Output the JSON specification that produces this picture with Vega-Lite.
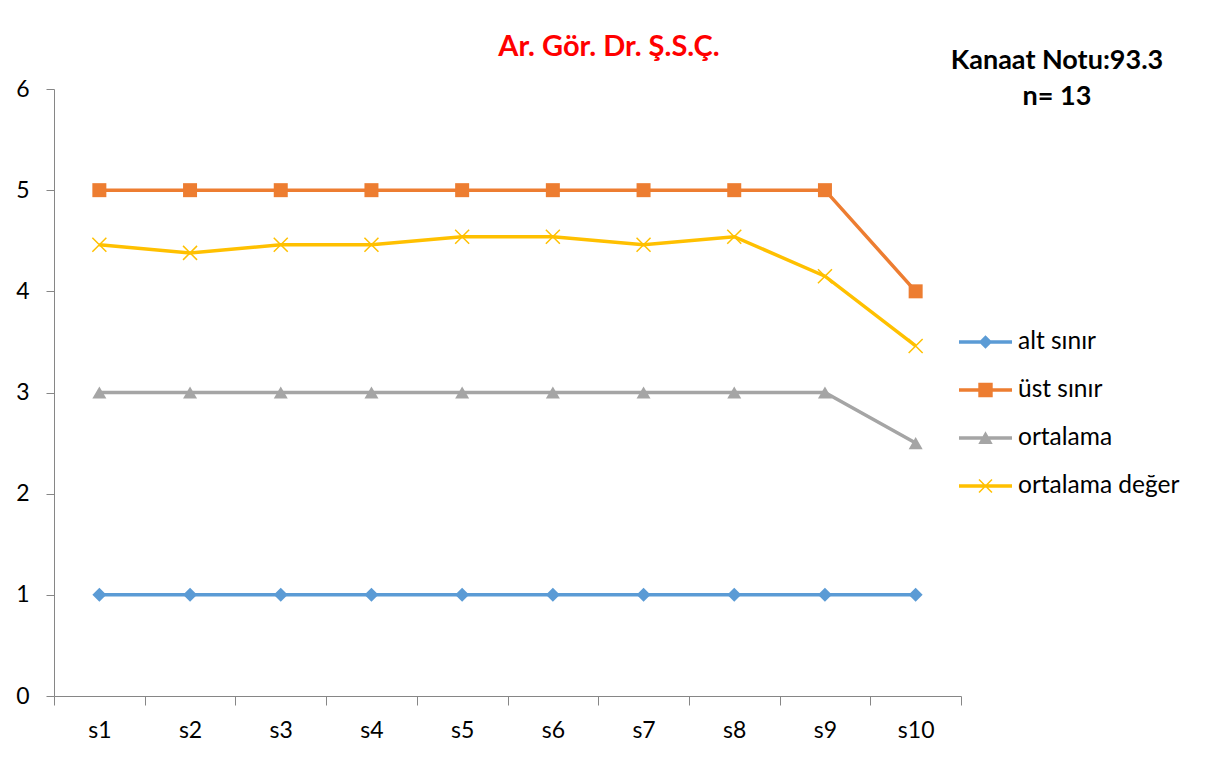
{
  "$schema": "https://vega.github.io/schema/vega-lite/v6.json",
  "autosize": {"type": "pad"},
  "padding": {"left": 15, "top": 33, "right": 5, "bottom": 5},
  "background": "white",
  "bounds": "flush",
  "title": {
    "text": ["Kanaat Notu:93.3", "n= 13"],
    "frame": "group",
    "anchor": "end",
    "align": "center",
    "baseline": "alphabetic",
    "dx": 96,
    "dy": 99,
    "offset": 0,
    "lineHeight": 36,
    "font": "Lato",
    "fontSize": 27,
    "fontWeight": "bold",
    "color": "#000000"
  },
  "vconcat": [
    {
      "width": 907,
      "height": 607,
      "title": {
        "text": "Ar. Gör. Dr. Ş.S.Ç.",
        "frame": "group",
        "anchor": "middle",
        "baseline": "alphabetic",
        "dx": 101.5,
        "dy": 42,
        "offset": 35,
        "font": "Lato",
        "fontSize": 29,
        "fontWeight": "bold",
        "color": "#FF0000"
      },
      "data": {
        "values": [
          {"s": "s1", "series": "alt sınır", "value": 1},
          {"s": "s2", "series": "alt sınır", "value": 1},
          {"s": "s3", "series": "alt sınır", "value": 1},
          {"s": "s4", "series": "alt sınır", "value": 1},
          {"s": "s5", "series": "alt sınır", "value": 1},
          {"s": "s6", "series": "alt sınır", "value": 1},
          {"s": "s7", "series": "alt sınır", "value": 1},
          {"s": "s8", "series": "alt sınır", "value": 1},
          {"s": "s9", "series": "alt sınır", "value": 1},
          {"s": "s10", "series": "alt sınır", "value": 1},
          {"s": "s1", "series": "üst sınır", "value": 5},
          {"s": "s2", "series": "üst sınır", "value": 5},
          {"s": "s3", "series": "üst sınır", "value": 5},
          {"s": "s4", "series": "üst sınır", "value": 5},
          {"s": "s5", "series": "üst sınır", "value": 5},
          {"s": "s6", "series": "üst sınır", "value": 5},
          {"s": "s7", "series": "üst sınır", "value": 5},
          {"s": "s8", "series": "üst sınır", "value": 5},
          {"s": "s9", "series": "üst sınır", "value": 5},
          {"s": "s10", "series": "üst sınır", "value": 4},
          {"s": "s1", "series": "ortalama", "value": 3},
          {"s": "s2", "series": "ortalama", "value": 3},
          {"s": "s3", "series": "ortalama", "value": 3},
          {"s": "s4", "series": "ortalama", "value": 3},
          {"s": "s5", "series": "ortalama", "value": 3},
          {"s": "s6", "series": "ortalama", "value": 3},
          {"s": "s7", "series": "ortalama", "value": 3},
          {"s": "s8", "series": "ortalama", "value": 3},
          {"s": "s9", "series": "ortalama", "value": 3},
          {"s": "s10", "series": "ortalama", "value": 2.5},
          {"s": "s1", "series": "ortalama değer", "value": 4.46},
          {"s": "s2", "series": "ortalama değer", "value": 4.38},
          {"s": "s3", "series": "ortalama değer", "value": 4.46},
          {"s": "s4", "series": "ortalama değer", "value": 4.46},
          {"s": "s5", "series": "ortalama değer", "value": 4.54},
          {"s": "s6", "series": "ortalama değer", "value": 4.54},
          {"s": "s7", "series": "ortalama değer", "value": 4.46},
          {"s": "s8", "series": "ortalama değer", "value": 4.54},
          {"s": "s9", "series": "ortalama değer", "value": 4.15},
          {"s": "s10", "series": "ortalama değer", "value": 3.46}
        ]
      },
      "encoding": {
        "x": {
          "field": "s",
          "type": "nominal",
          "sort": ["s1", "s2", "s3", "s4", "s5", "s6", "s7", "s8", "s9", "s10"],
          "scale": {"type": "band", "paddingInner": 0, "paddingOuter": 0},
          "axis": {
            "title": null,
            "labelAngle": 0,
            "tickBand": "extent",
            "tickSize": 9,
            "labelPadding": 14
          }
        },
        "y": {
          "field": "value",
          "type": "quantitative",
          "scale": {"domain": [0, 6], "nice": false, "zero": true},
          "axis": {
            "title": null,
            "values": [0, 1, 2, 3, 4, 5, 6],
            "tickSize": 8,
            "labelPadding": 17,
            "grid": false
          }
        }
      },
      "layer": [
        {
          "mark": {"type": "line", "strokeWidth": 3.5},
          "encoding": {
            "color": {
              "field": "series",
              "type": "nominal",
              "scale": {
                "domain": ["alt sınır", "üst sınır", "ortalama", "ortalama değer"],
                "range": ["#5B9BD5", "#ED7D31", "#A5A5A5", "#FFC000"]
              },
              "legend": {
                "orient": "none",
                "legendX": 916.5,
                "legendY": 238,
                "title": null,
                "padding": 0,
                "symbolSize": 900,
                "labelOffset": 17.5,
                "labelLimit": 300,
                "rowPadding": 21,
                "labelFont": "Lato",
                "labelFontSize": 24.5,
                "labelColor": "#000000",
                "encode": {
                  "symbols": {
                    "update": {
                      "shape": {"signal": "datum.value === 'alt sınır' ? 'M-1.767,-0.117H1.767V0.117H-1.767Z M0,-0.45L0.45,0L0,0.45L-0.45,0Z' : datum.value === 'üst sınır' ? 'M-1.767,-0.117H1.767V0.117H-1.767Z M-0.48,-0.48H0.48V0.48H-0.48Z' : datum.value === 'ortalama' ? 'M-1.767,-0.117H1.767V0.117H-1.767Z M0,-0.45L0.48,0.4H-0.48Z' : 'M-1.767,-0.117H1.767V0.117H-1.767Z M-0.398,-0.468L0.468,0.398L0.398,0.468L-0.468,-0.398Z M-0.468,0.398L0.398,-0.468L0.468,-0.398L-0.398,0.468Z'"},
                      "fill": {"scale": "color", "field": "value"},
                      "stroke": {"value": "transparent"},
                      "strokeWidth": {"value": 0},
                      "opacity": {"value": 1}
                    }
                  }
                }
              }
            }
          }
        },
        {
          "transform": [{"filter": "datum.series !== 'ortalama değer'"}],
          "mark": {"type": "point", "filled": true, "size": 196, "opacity": 1},
          "encoding": {
            "color": {"field": "series", "type": "nominal", "legend": null},
            "shape": {
              "field": "series",
              "type": "nominal",
              "scale": {
                "domain": ["alt sınır", "üst sınır", "ortalama"],
                "range": ["diamond", "square", "triangle-up"]
              },
              "legend": null
            }
          }
        },
        {
          "transform": [{"filter": "datum.series === 'ortalama değer'"}],
          "mark": {
            "type": "point",
            "filled": false,
            "shape": "M-1,-1L1,1M-1,1L1,-1",
            "size": 196,
            "strokeWidth": 1.5,
            "color": "#FFC000",
            "opacity": 1
          }
        }
      ]
    }
  ],
  "config": {
    "view": {"stroke": null},
    "axis": {
      "domainColor": "#868686",
      "tickColor": "#868686",
      "domainWidth": 1,
      "tickWidth": 1,
      "labelFont": "Lato",
      "labelFontSize": 23,
      "labelColor": "#000000",
      "grid": false
    }
  }
}
